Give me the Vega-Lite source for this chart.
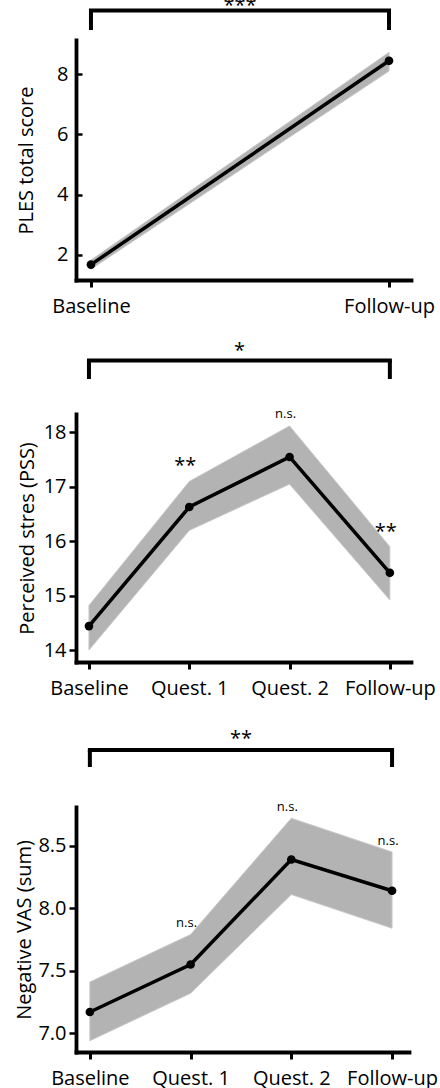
{
  "$schema": "https://vega.github.io/schema/vega-lite/v6.json",
  "padding": {"left": 14, "top": 0, "right": 0, "bottom": 0},
  "bounds": "flush",
  "spacing": 0,
  "config": {
    "font": "Open Sans",
    "view": {"stroke": null},
    "axis": {
      "domainColor": "black", "domainWidth": 3.8, "domainCap": "square",
      "tickColor": "black", "tickWidth": 3, "tickSize": 7,
      "labelFont": "Open Sans", "labelFontSize": 20, "labelColor": "black",
      "titleFont": "Open Sans", "titleFontSize": 20, "titleFontWeight": "normal", "titleColor": "black",
      "grid": false, "labelPadding": 3
    },
    "axisX": {"labelPadding": 9, "labelAngle": 0},
    "axisY": {"tickWidth": 2.5},
    "text": {"font": "Open Sans", "color": "black"}
  },
  "datasets": {
    "brackets": [
      {"panel": "PLES", "from": "Baseline", "to": "Follow-up", "label": "***"},
      {"panel": "PSS", "from": "Baseline", "to": "Follow-up", "label": "*"},
      {"panel": "VAS", "from": "Baseline", "to": "Follow-up", "label": "**"}
    ],
    "ples": [
      {"visit": "Baseline", "mean": 1.68, "lo": 1.53, "hi": 1.83, "sig": ""},
      {"visit": "Follow-up", "mean": 8.44, "lo": 8.1, "hi": 8.72, "sig": ""}
    ],
    "pss": [
      {"visit": "Baseline", "mean": 14.44, "lo": 14.0, "hi": 14.82, "sig": ""},
      {"visit": "Quest. 1", "mean": 16.63, "lo": 16.2, "hi": 17.1, "sig": "**"},
      {"visit": "Quest. 2", "mean": 17.55, "lo": 17.05, "hi": 18.12, "sig": "n.s."},
      {"visit": "Follow-up", "mean": 15.42, "lo": 14.92, "hi": 15.9, "sig": "**"}
    ],
    "vas": [
      {"visit": "Baseline", "mean": 7.17, "lo": 6.94, "hi": 7.41, "sig": ""},
      {"visit": "Quest. 1", "mean": 7.55, "lo": 7.32, "hi": 7.79, "sig": "n.s."},
      {"visit": "Quest. 2", "mean": 8.39, "lo": 8.11, "hi": 8.72, "sig": "n.s."},
      {"visit": "Follow-up", "mean": 8.14, "lo": 7.84, "hi": 8.45, "sig": "n.s."}
    ]
  },
  "vconcat": [
    {
      "name": "b1",
      "width": 335, "height": 40,
      "data": {"name": "brackets"},
      "transform": [{"filter": "datum.panel == 'PLES'"}],
      "layer": [
        {"mark": {"type": "rule", "color": "black", "strokeWidth": 4, "strokeCap": "square"},
         "encoding": {
           "x": {"field": "from", "type": "ordinal", "scale": {"type": "point", "domain": ["Baseline", "Follow-up"], "padding": 0.062, "align": 0.405}, "axis": null},
           "x2": {"field": "to"},
           "y": {"datum": 0.7375, "type": "quantitative", "scale": {"domain": [0, 1], "nice": false, "zero": false}, "axis": null}}},
        {"mark": {"type": "rule", "color": "black", "strokeWidth": 4},
         "encoding": {
           "x": {"field": "from", "type": "ordinal"},
           "y": {"datum": 0.7375, "type": "quantitative"}, "y2": {"datum": 0.25}}},
        {"mark": {"type": "rule", "color": "black", "strokeWidth": 4},
         "encoding": {
           "x": {"field": "to", "type": "ordinal"},
           "y": {"datum": 0.7375, "type": "quantitative"}, "y2": {"datum": 0.25}}},
        {"mark": {"type": "text", "fontSize": 20, "baseline": "alphabetic", "align": "center", "dy": 1.5, "clip": true,
                  "x": {"expr": "(scale('b1_x', datum.from) + scale('b1_x', datum.to)) / 2"}},
         "encoding": {
           "y": {"datum": 0.7375, "type": "quantitative"},
           "text": {"field": "label"}}}
      ]
    },
    {
      "width": 335, "height": 240,
      "data": {"name": "ples"},
      "layer": [
        {"mark": {"type": "area", "fill": "#b3b3b3", "stroke": "#c8c8c8", "strokeWidth": 1},
         "encoding": {
           "x": {"field": "visit", "type": "ordinal", "sort": null, "scale": {"type": "point", "domain": ["Baseline", "Follow-up"], "padding": 0.062, "align": 0.405}, "axis": {"title": null}},
           "y": {"field": "lo", "type": "quantitative", "scale": {"domain": [1.17, 9.13], "nice": false, "zero": false}, "axis": {"title": "PLES total score", "values": [2, 4, 6, 8], "format": "d", "tickSize": -6, "labelPadding": 14, "titlePadding": 20}},
           "y2": {"field": "hi"}}},
        {"mark": {"type": "line", "color": "black", "strokeWidth": 3.5},
         "encoding": {"x": {"field": "visit", "type": "ordinal", "sort": null}, "y": {"field": "mean", "type": "quantitative"}}},
        {"mark": {"type": "point", "filled": true, "color": "black", "size": 75, "opacity": 1},
         "encoding": {"x": {"field": "visit", "type": "ordinal", "sort": null}, "y": {"field": "mean", "type": "quantitative"}}}
      ]
    },
    {
      "name": "b2",
      "width": 335, "height": 134,
      "data": {"name": "brackets"},
      "transform": [{"filter": "datum.panel == 'PSS'"}],
      "layer": [
        {"mark": {"type": "rule", "color": "black", "strokeWidth": 4, "strokeCap": "square"},
         "encoding": {
           "x": {"field": "from", "type": "ordinal", "scale": {"type": "point", "domain": ["Baseline", "Quest. 1", "Quest. 2", "Follow-up"], "padding": 0.17, "align": 0.38}, "axis": null},
           "x2": {"field": "to"},
           "y": {"datum": 0.399, "type": "quantitative", "scale": {"domain": [0, 1], "nice": false, "zero": false}, "axis": null}}},
        {"mark": {"type": "rule", "color": "black", "strokeWidth": 4},
         "encoding": {
           "x": {"field": "from", "type": "ordinal"},
           "y": {"datum": 0.399, "type": "quantitative"}, "y2": {"datum": 0.261}}},
        {"mark": {"type": "rule", "color": "black", "strokeWidth": 4},
         "encoding": {
           "x": {"field": "to", "type": "ordinal"},
           "y": {"datum": 0.399, "type": "quantitative"}, "y2": {"datum": 0.261}}},
        {"mark": {"type": "text", "fontSize": 20, "baseline": "alphabetic", "align": "center", "dy": -4,
                  "x": {"expr": "(scale('b2_x', datum.from) + scale('b2_x', datum.to)) / 2"}},
         "encoding": {
           "y": {"datum": 0.399, "type": "quantitative"},
           "text": {"field": "label"}}}
      ]
    },
    {
      "width": 335, "height": 248,
      "data": {"name": "pss"},
      "layer": [
        {"mark": {"type": "area", "fill": "#b3b3b3", "stroke": "#c8c8c8", "strokeWidth": 1},
         "encoding": {
           "x": {"field": "visit", "type": "ordinal", "sort": null, "scale": {"type": "point", "domain": ["Baseline", "Quest. 1", "Quest. 2", "Follow-up"], "padding": 0.17, "align": 0.38}, "axis": {"title": null}},
           "y": {"field": "lo", "type": "quantitative", "scale": {"domain": [13.78, 18.34], "nice": false, "zero": false}, "axis": {"title": "Perceived stres (PSS)", "values": [14, 15, 16, 17, 18], "format": "d", "titlePadding": 6}},
           "y2": {"field": "hi"}}},
        {"mark": {"type": "line", "color": "black", "strokeWidth": 3.5},
         "encoding": {"x": {"field": "visit", "type": "ordinal", "sort": null}, "y": {"field": "mean", "type": "quantitative"}}},
        {"mark": {"type": "point", "filled": true, "color": "black", "size": 75, "opacity": 1},
         "encoding": {"x": {"field": "visit", "type": "ordinal", "sort": null}, "y": {"field": "mean", "type": "quantitative"}}},
        {"transform": [{"filter": "datum.sig == '**'"}],
         "mark": {"type": "text", "fontSize": 20, "baseline": "alphabetic", "dy": -9, "dx": -4},
         "encoding": {"x": {"field": "visit", "type": "ordinal", "sort": null}, "y": {"field": "hi", "type": "quantitative"}, "text": {"field": "sig"}}},
        {"transform": [{"filter": "datum.sig == 'n.s.'"}],
         "mark": {"type": "text", "fontSize": 13, "baseline": "alphabetic", "dy": -7.5, "dx": -4},
         "encoding": {"x": {"field": "visit", "type": "ordinal", "sort": null}, "y": {"field": "hi", "type": "quantitative"}, "text": {"field": "sig"}}}
      ]
    },
    {
      "name": "b3",
      "width": 333, "height": 145,
      "data": {"name": "brackets"},
      "transform": [{"filter": "datum.panel == 'VAS'"}],
      "layer": [
        {"mark": {"type": "rule", "color": "black", "strokeWidth": 4, "strokeCap": "square"},
         "encoding": {
           "x": {"field": "from", "type": "ordinal", "scale": {"type": "point", "domain": ["Baseline", "Quest. 1", "Quest. 2", "Follow-up"], "padding": 0.153, "align": 0.45}, "axis": null},
           "x2": {"field": "to"},
           "y": {"datum": 0.393, "type": "quantitative", "scale": {"domain": [0, 1], "nice": false, "zero": false}, "axis": null}}},
        {"mark": {"type": "rule", "color": "black", "strokeWidth": 4},
         "encoding": {
           "x": {"field": "from", "type": "ordinal"},
           "y": {"datum": 0.393, "type": "quantitative"}, "y2": {"datum": 0.276}}},
        {"mark": {"type": "rule", "color": "black", "strokeWidth": 4},
         "encoding": {
           "x": {"field": "to", "type": "ordinal"},
           "y": {"datum": 0.393, "type": "quantitative"}, "y2": {"datum": 0.276}}},
        {"mark": {"type": "text", "fontSize": 20, "baseline": "alphabetic", "align": "center", "dy": -5,
                  "x": {"expr": "(scale('b3_x', datum.from) + scale('b3_x', datum.to)) / 2"}},
         "encoding": {
           "y": {"datum": 0.393, "type": "quantitative"},
           "text": {"field": "label"}}}
      ]
    },
    {
      "width": 333, "height": 245,
      "data": {"name": "vas"},
      "layer": [
        {"mark": {"type": "area", "fill": "#b3b3b3", "stroke": "#c8c8c8", "strokeWidth": 1},
         "encoding": {
           "x": {"field": "visit", "type": "ordinal", "sort": null, "scale": {"type": "point", "domain": ["Baseline", "Quest. 1", "Quest. 2", "Follow-up"], "padding": 0.153, "align": 0.45}, "axis": {"title": null}},
           "y": {"field": "lo", "type": "quantitative", "scale": {"domain": [6.85, 8.81], "nice": false, "zero": false}, "axis": {"title": "Negative VAS (sum)", "values": [7.0, 7.5, 8.0, 8.5], "format": ".1f", "titlePadding": 3}},
           "y2": {"field": "hi"}}},
        {"mark": {"type": "line", "color": "black", "strokeWidth": 3.5},
         "encoding": {"x": {"field": "visit", "type": "ordinal", "sort": null}, "y": {"field": "mean", "type": "quantitative"}}},
        {"mark": {"type": "point", "filled": true, "color": "black", "size": 75, "opacity": 1},
         "encoding": {"x": {"field": "visit", "type": "ordinal", "sort": null}, "y": {"field": "mean", "type": "quantitative"}}},
        {"transform": [{"filter": "datum.sig == 'n.s.'"}],
         "mark": {"type": "text", "fontSize": 13, "baseline": "alphabetic", "dy": -7.5, "dx": -4},
         "encoding": {"x": {"field": "visit", "type": "ordinal", "sort": null}, "y": {"field": "hi", "type": "quantitative"}, "text": {"field": "sig"}}}
      ]
    }
  ]
}
